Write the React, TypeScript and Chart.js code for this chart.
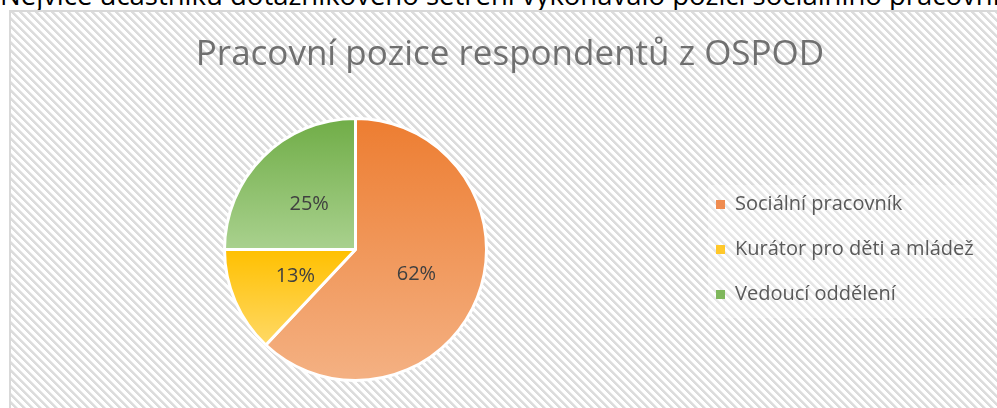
import React, { useEffect, useRef } from "react";
import { Chart, registerables } from "chart.js";

Chart.register(...registerables);

// ---- data ----
const categories = ["Sociální pracovník", "Kurátor pro děti a mládež", "Vedoucí oddělení"];
const shares = [62, 13, 25];
const chartTitle = "Pracovní pozice respondentů z OSPOD";
const introText = "Nejvíce účastníků dotazníkového šetření vykonávalo pozici sociálního pracovníka.";

// ---- style ----
const gradTop = ["#ED7D31", "#FFC000", "#70AD47"];
const gradBottom = ["#F4B183", "#FFD966", "#A9D18E"];
const legendFill = ["#EF8B4F", "#FFC82A", "#7FB75C"];
const FONT = "'Open Sans', Lato, sans-serif";
const W = 998;
const H = 400;
const BORDER = 3;
const LEGEND_FONT = 20;
const LEGEND_PAD = 25;
const PAD_L = 9;
const PAD_R = 9;
const LEGEND_LEFT = 680;
const LEGEND_W = W - PAD_R - LEGEND_LEFT;

function sliceExtent(i: number) {
  const total = shares.reduce((a, b) => a + b, 0);
  let cum = 0;
  for (let k = 0; k < i; k++) cum += shares[k];
  const s = -Math.PI / 2 + (2 * Math.PI * cum) / total;
  const e = s + (2 * Math.PI * shares[i]) / total;
  const ys = [0, Math.sin(s), Math.sin(e)];
  const contains = (a: number) => {
    for (let t = a - 4 * Math.PI; t <= a + 4 * Math.PI; t += 2 * Math.PI) {
      if (t >= s && t <= e) return true;
    }
    return false;
  };
  if (contains(Math.PI / 2)) ys.push(1);
  if (contains(-Math.PI / 2)) ys.push(-1);
  return [Math.min(...ys), Math.max(...ys)];
}

const legendWidthPlugin = {
  id: "legendWidth",
  afterInit(chart: any) {
    const lg = chart.legend;
    if (!lg) return;
    const orig = lg.fit;
    lg.fit = function () {
      orig.call(this);
      this.width = LEGEND_W;
    };
  },
};

const hatchPlugin = {
  id: "hatch",
  beforeDraw(chart: any) {
    const { ctx, width, height } = chart;
    const p = document.createElement("canvas");
    p.width = 8;
    p.height = 8;
    const pc = p.getContext("2d")!;
    pc.fillStyle = "#ffffff";
    pc.fillRect(0, 0, 8, 8);
    for (let y = 0; y < 8; y++) {
      for (let x = 0; x < 8; x++) {
        const d = (((x - y) % 8) + 8) % 8;
        if (d < 3) {
          pc.fillStyle = "#dcdcdc";
          pc.fillRect(x, y, 1, 1);
        } else if (d === 3) {
          pc.fillStyle = "#ececec";
          pc.fillRect(x, y, 1, 1);
        }
      }
    }
    ctx.save();
    const pat = ctx.createPattern(p, "repeat");
    if (pat) ctx.fillStyle = pat;
    ctx.fillRect(0, 0, width, height);
    // legend backdrop
    ctx.fillStyle = "rgba(255,255,255,0.3)";
    ctx.fillRect(697, 173, width - 697, 133);
    ctx.restore();
  },
};

const labelPlugin = {
  id: "sliceLabels",
  afterDatasetsDraw(chart: any) {
    const { ctx } = chart;
    const meta = chart.getDatasetMeta(0);
    ctx.save();
    ctx.font = `20px ${FONT}`;
    ctx.fillStyle = "#404040";
    ctx.textAlign = "center";
    ctx.textBaseline = "middle";
    meta.data.forEach((arc: any, i: number) => {
      const { x, y } = arc.tooltipPosition(false);
      ctx.fillText(`${shares[i]}%`, x, y + 1);
    });
    ctx.restore();
  },
};

export default function App() {
  const ref = useRef<HTMLCanvasElement>(null);

  useEffect(() => {
    if (!ref.current) return;

    const chart = new Chart(ref.current, {
      type: "pie",
      data: {
        labels: categories,
        datasets: [
          {
            data: shares,
            borderColor: "#ffffff",
            borderWidth: BORDER,
            backgroundColor: (c: any) => {
              const ch = c.chart;
              const area = ch.chartArea;
              const i = c.dataIndex;
              if (!area || i === undefined) return gradTop[i ?? 0];
              const cy = (area.top + area.bottom) / 2;
              const r = (Math.min(area.bottom - area.top, area.right - area.left) - BORDER) / 2;
              const [y0, y1] = sliceExtent(i);
              const g = ch.ctx.createLinearGradient(0, cy + r * y0, 0, cy + r * y1);
              g.addColorStop(0, gradTop[i]);
              g.addColorStop(1, gradBottom[i]);
              return g;
            },
          },
        ],
      },
      options: {
        responsive: false,
        animation: false,
        layout: { padding: { left: PAD_L, right: PAD_R, top: 0, bottom: 30 } },
        plugins: {
          title: {
            display: true,
            text: chartTitle,
            color: "#707070",
            font: { family: FONT, size: 35, weight: "normal", lineHeight: 1.2 },
            padding: { top: 22.5, bottom: 40.5 },
          },
          legend: {
            position: "right",
            align: "center",
            fullSize: false,
            labels: {
              boxWidth: 9,
              boxHeight: 9,
              padding: LEGEND_PAD,
              color: "#595959",
              font: { family: FONT, size: LEGEND_FONT },
              generateLabels: (ch: any) => {
                const base = (Chart as any).overrides.pie.plugins.legend.labels.generateLabels(ch);
                return base.map((it: any, i: number) => ({
                  ...it,
                  fillStyle: legendFill[i],
                  strokeStyle: "rgba(0,0,0,0)",
                  lineWidth: 0,
                }));
              },
            },
          },
          tooltip: { enabled: false },
        },
      } as any,
      plugins: [legendWidthPlugin, hatchPlugin, labelPlugin],
    });
    return () => chart.destroy();
  }, []);

  return (
    <div
      style={{
        position: "absolute",
        left: 0,
        top: 0,
        width: 997,
        height: 408,
        overflow: "hidden",
        background: "#ffffff",
      }}
    >
      <div
        style={{
          position: "absolute",
          left: 0,
          top: -19,
          whiteSpace: "nowrap",
          fontFamily: FONT,
          fontSize: 27.5,
          lineHeight: "27.5px",
          color: "#000000",
        }}
      >
        {introText}
      </div>
      <div
        style={{
          position: "absolute",
          left: 9,
          top: 10,
          width: W,
          height: H,
          border: "2px solid #d9d9d9",
        }}
      >
        <canvas ref={ref} width={W} height={H} style={{ display: "block" }} />
      </div>
    </div>
  );
}
